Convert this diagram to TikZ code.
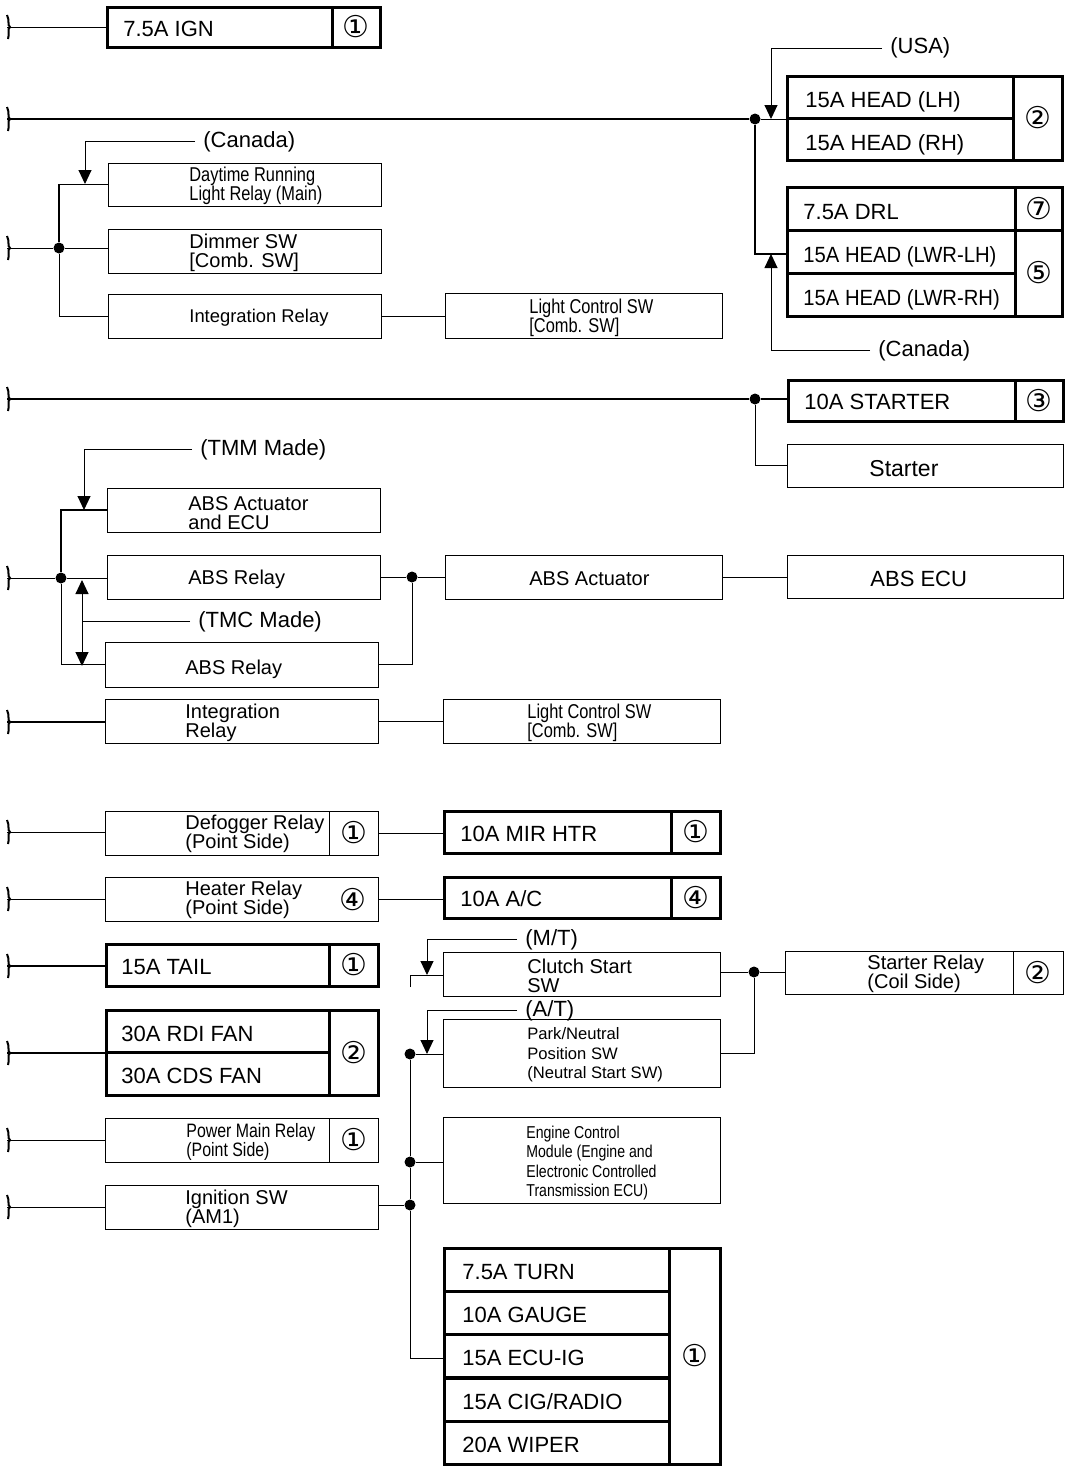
\documentclass[tikz,border=0pt]{standalone}
\usepackage{fontspec}
\setmainfont{Liberation Sans}
\newfontfamily\narrowfont[FakeStretch=0.82]{Liberation Sans}
\newfontfamily\lwrfont[FakeStretch=0.92]{Liberation Sans}
\newfontfamily\circlefont{DejaVu Sans}
\usetikzlibrary{arrows.meta}
\tikzset{
  fusecell/.style 2 args={draw,line width=1.5pt,anchor=north west,inner sep=0pt,outer sep=0pt,
    minimum width=#1*0.5pt,minimum height=#2*0.5pt},
  relaycell/.style 2 args={draw,line width=0.5pt,anchor=north west,inner sep=0pt,outer sep=0pt,
    minimum width=#1*0.5pt,minimum height=#2*0.5pt},
  circled/.style={font=\circlefont\fontsize{15}{15}\selectfont},
  fuselbl/.style={anchor=base west,yshift=-4pt,inner sep=0pt,font=\fontsize{11}{11}\selectfont},
  lwrlbl/.style={anchor=base west,yshift=-4pt,inner sep=0pt,font=\lwrfont\fontsize{11}{11}\selectfont},
  relaylbl/.style={anchor=west,yshift=-1pt,inner sep=0pt,align=left,font=\fontsize{10}{9.6}\selectfont},
  narrowlbl/.style={anchor=west,yshift=-1pt,inner sep=0pt,align=left,font=\narrowfont\fontsize{10}{9.6}\selectfont},
  smalllbl/.style={anchor=west,yshift=-1pt,inner sep=0pt,align=left,font=\fontsize{8.3}{9.7}\selectfont},
  ecmlbl/.style={anchor=west,yshift=-1pt,inner sep=0pt,align=left,font=\narrowfont\fontsize{8.6}{9.6}\selectfont},
  note/.style={anchor=base west,yshift=-4pt,inner sep=0pt,inner xsep=4pt,font=\fontsize{11}{11}\selectfont},
  jdot/.style={circle,fill=black,inner sep=0pt,minimum size=5.5pt},
  wire/.style={line width=0.5pt},
  mainwire/.style={line width=0.7pt},
  heavywire/.style={line width=0.9pt},
  wiretip/.style={line width=0.5pt,-{Triangle[width=6.5pt,length=7pt]}},
  wirebreak/.pic={\draw[line width=1pt] (0,-12) .. controls (3,-6) and (0,-2) .. (3,0) .. controls (0,2) and (3,6) .. (1,12);}
}
\begin{document}
\begin{tikzpicture}[x=0.5pt,y=-0.5pt]
\useasboundingbox (0,0) rectangle (1088,1472);
% wire breaks on the left
\foreach \n/\y in {ign/27,head/119,drl/248,start/399,abs/578,integ/722,defog/832,heat/899,tail/966,rdi/1053,pmain/1140,ignsw/1207}{
  \coordinate (brk\n) at (7,\y);
  \pic at (brk\n) {wirebreak};
}
% 7.5A IGN
\node[fusecell={225}{40}] (ign) at (107,7) {};
\node[fusecell={48}{40},circled] (ignno) at (332,7) {①};
\node[fuselbl] (ignT) at (123,28) {7.5A IGN};
\draw[wire] (brkign) -- (brkign -| ign.west);
% headlights
\node[fusecell={226}{42}] (headlh) at (787,76) {};
\node[fusecell={226}{42}] (headrh) at (787,118) {};
\node[fusecell={49}{84},circled] (headno) at (1013,76) {②};
\node[fuselbl] (headlhT) at (805,99) {15A HEAD (LH)};
\node[fuselbl] (headrhT) at (805,142) {15A HEAD (RH)};
\node[fusecell={228}{43}] (drlf) at (787,187) {};
\node[fusecell={47}{43},circled] (drlno) at (1015,187) {⑦};
\node[fusecell={228}{43}] (lwrlh) at (787,230) {};
\node[fusecell={228}{43}] (lwrrh) at (787,273) {};
\node[fusecell={47}{86},circled] (lwrno) at (1015,230) {⑤};
\node[fuselbl] (drlT) at (803,211) {7.5A DRL};
\node[lwrlbl] (lwrlhT) at (803,254) {15A HEAD (LWR-LH)};
\node[lwrlbl] (lwrrhT) at (803,297) {15A HEAD (LWR-RH)};
\node[jdot] (jhead) at (755,119) {};
\draw[mainwire] (brkhead) -- (jhead);
\draw[wire] (jhead) -- (jhead -| headlh.west);
\draw[heavywire] (jhead) |- ([yshift=-1.2pt]lwrlh.west);
\node[note] (usa) at (882,46) {(USA)};
\coordinate (usaTip) at (771,119);
\draw[wiretip] (usa.west) -| (usaTip);
\node[note] (canR) at (870,348) {(Canada)};
\coordinate (canRTip) at (771,254);
\draw[wiretip] (canR.west) -| (canRTip);
% daytime running light
\node[relaycell={273}{43}] (drlmain) at (108,163) {};
\node[relaycell={273}{44}] (dimmer) at (108,229) {};
\node[relaycell={273}{44}] (integ) at (108,294) {};
\node[relaycell={277}{45}] (ctl) at (445,293) {};
\node[narrowlbl] (drlmainT) at (189,184) {Daytime Running\\Light Relay (Main)};
\node[relaylbl] (dimmerT) at (189,251) {Dimmer SW\\{[Comb. SW]}};
\node[relaylbl,font=\fontsize{9.2}{9.6}\selectfont] (integT) at (189,316) {Integration Relay};
\node[narrowlbl] (ctlT) at (529,316) {Light Control SW\\{[Comb. SW]}};
\node[jdot] (jdrl) at (59,248) {};
\draw[wire] (brkdrl) -- (jdrl) -- (jdrl -| dimmer.west);
\draw[heavywire] (jdrl) |- (drlmain.west);
\draw[wire] (jdrl) |- (integ.west);
\draw[wire] (integ.east) -- (integ.east -| ctl.west);
\node[note] (canL) at (195,139) {(Canada)};
\coordinate (canLTip) at (85,184);
\draw[wiretip] (canL.west) -| (canLTip);
% starter
\node[fusecell={227}{41}] (startf) at (788,380) {};
\node[fusecell={48}{41},circled] (startno) at (1015,380) {③};
\node[fuselbl] (startfT) at (804,401) {10A STARTER};
\node[relaycell={276}{43}] (starter) at (787,444) {};
\node[relaylbl,font=\fontsize{11.5}{11}\selectfont] (starterT) at (869,467) {Starter};
\node[jdot] (jst) at (755,399) {};
\draw[heavywire] (brkstart) -- (jst) -- (jst -| startf.west);
\draw[wire] (jst) |- (starter.west);
% ABS
\node[relaycell={273}{44}] (absact) at (107,488) {};
\node[relaycell={273}{44}] (absrelaya) at (107,555) {};
\node[relaycell={273}{45}] (absrelayb) at (105,642) {};
\node[relaycell={277}{44}] (actuator) at (445,555) {};
\node[relaycell={276}{43}] (absecu) at (787,555) {};
\node[relaylbl] (absactT) at (188,511) {ABS Actuator\\and ECU};
\node[relaylbl] (absrelayaT) at (188,577) {ABS Relay};
\node[relaylbl] (absrelaybT) at (185,667) {ABS Relay};
\node[relaylbl] (actuatorT) at (529,577) {ABS Actuator};
\node[fuselbl] (absecuT) at (870,578) {ABS ECU};
\node[jdot] (jabs) at (61,578) {};
\node[jdot] (jact) at (412,577) {};
\draw[wire] (brkabs) -- (jabs) -- (jabs -| absrelaya.west);
\draw[heavywire] (jabs) |- (absact.west);
\draw[wire] (jabs) |- (absrelayb.west);
\draw[wire] (jact -| absrelaya.east) -- (jact) -- (jact -| actuator.west);
\draw[wire] (jact) |- (absrelayb.east);
\draw[wire] (actuator.east) -- (actuator.east -| absecu.west);
\node[note] (tmm) at (192,447) {(TMM Made)};
\coordinate (tmmTip) at (84,510);
\draw[wiretip] (tmm.west) -| (tmmTip);
\node[note] (tmc) at (190,619) {(TMC Made)};
\coordinate (tmcUp) at (82,580);
\coordinate (tmcDown) at (82,666);
\coordinate (tmcMid) at (tmcUp |- tmc.west);
\draw[wire] (tmc.west) -- (tmcMid);
\draw[wiretip] (tmcMid) -- (tmcUp);
\draw[wiretip] (tmcMid) -- (tmcDown);
% integration relay
\node[relaycell={273}{44}] (integb) at (105,699) {};
\node[relaycell={277}{44}] (ctlb) at (443,699) {};
\node[relaylbl] (integbT) at (185,721) {Integration\\Relay};
\node[narrowlbl] (ctlbT) at (527,721) {Light Control SW\\{[Comb. SW]}};
\draw[heavywire] (brkinteg) -- (brkinteg -| integb.west);
\draw[wire] (integb.east) -- (integb.east -| ctlb.west);
% relays and their fuses
\node[relaycell={224}{44}] (defog) at (105,811) {};
\node[relaycell={49}{44},circled] (defogno) at (329,811) {①};
\node[relaylbl] (defogT) at (185,832) {Defogger Relay\\(Point Side)};
\node[fusecell={227}{42}] (mir) at (444,811) {};
\node[fusecell={49}{42},circled] (mirno) at (671,811) {①};
\node[fuselbl] (mirT) at (460,833) {10A MIR HTR};
\draw[wire] (brkdefog) -- (brkdefog -| defog.west);
\draw[wire] (defogno.east) -- (defogno.east -| mir.west);
\node[relaycell={273}{44}] (heat) at (105,877) {};
\node[circled] (heatno) at (353,900) {④};
\node[relaylbl] (heatT) at (185,898) {Heater Relay\\(Point Side)};
\node[fusecell={227}{41}] (ac) at (444,877) {};
\node[fusecell={49}{41},circled] (acno) at (671,877) {④};
\node[fuselbl] (acT) at (460,898) {10A A/C};
\draw[wire] (brkheat) -- (brkheat -| heat.west);
\draw[wire] (heat.east) -- (heat.east -| ac.west);
\node[fusecell={223}{42}] (tail) at (106,944) {};
\node[fusecell={49}{42},circled] (tailno) at (329,944) {①};
\node[fuselbl] (tailT) at (121,966) {15A TAIL};
\draw[heavywire] (brktail) -- (brktail -| tail.west);
\node[fusecell={223}{42}] (rdi) at (106,1010) {};
\node[fusecell={223}{43}] (cds) at (106,1052) {};
\node[fusecell={49}{85},circled] (rdino) at (329,1010) {②};
\node[fuselbl] (rdiT) at (121,1033) {30A RDI FAN};
\node[fuselbl] (cdsT) at (121,1075) {30A CDS FAN};
\draw[heavywire] (brkrdi) -- (brkrdi -| rdi.west);
\node[relaycell={224}{44}] (pmain) at (105,1118) {};
\node[relaycell={49}{44},circled] (pmainno) at (329,1118) {①};
\node[narrowlbl,font=\narrowfont\fontsize{9.7}{9.6}\selectfont] (pmainT) at (186,1140) {Power Main Relay\\(Point Side)};
\draw[wire] (brkpmain) -- (brkpmain -| pmain.west);
\node[relaycell={273}{44}] (ignsw) at (105,1185) {};
\node[relaylbl] (ignswT) at (185,1207) {Ignition SW\\(AM1)};
\draw[wire] (brkignsw) -- (brkignsw -| ignsw.west);
% starter relay side
\node[relaycell={277}{44}] (clutch) at (443,952) {};
\node[relaylbl] (clutchT) at (527,974) {Clutch Start\\SW};
\node[relaycell={277}{68}] (park) at (443,1019) {};
\node[smalllbl] (parkT) at (527,1053) {Park/Neutral\\Position SW\\(Neutral Start SW)};
\node[relaycell={277}{86}] (ecm) at (443,1117) {};
\node[ecmlbl] (ecmT) at (526,1161) {Engine Control\\Module (Engine and\\Electronic Controlled\\Transmission ECU)};
\node[relaycell={228}{43}] (relay) at (785,951) {};
\node[relaycell={50}{43},circled] (relayno) at (1013,951) {②};
\node[relaylbl] (relayT) at (867,972) {Starter Relay\\(Coil Side)};
\node[jdot] (jstart) at (754,972) {};
\draw[wire] (jstart -| clutch.east) -- (jstart) -- (jstart -| relay.west);
\draw[wire] (jstart) |- (park.east);
\node[note] (mt) at (517,937) {(M/T)};
\coordinate (mtTip) at (427,975);
\coordinate (mtEnd) at (410,975);
\coordinate (mtStub) at (410,987);
\draw[wiretip] (mt.west) -| (mtTip);
\draw[wire] (mtStub) -- (mtEnd) -- (mtEnd -| clutch.west);
\node[note] (at) at (517,1008) {(A/T)};
\coordinate (atTip) at (427,1054);
\draw[wiretip] (at.west) -| (atTip);
\node[jdot] (jpark) at (410,1054) {};
\node[jdot] (jecm) at (410,1162) {};
\node[jdot] (jignsw) at (410,1205) {};
\draw[wire] (jpark) -- (jpark -| park.west);
\draw[wire] (jecm) -- (jecm -| ecm.west);
\draw[wire] (jignsw -| ignsw.east) -- (jignsw);
\draw[wire] (jpark) -- (jecm) -- (jignsw);
% fuse block
\foreach \n/\y/\t in {turn/1248/{7.5A TURN},gauge/1291/{10A GAUGE},ecuig/1334/{15A ECU-IG},cig/1378/{15A CIG/RADIO},wiper/1421/{20A WIPER}}{
  \node[fusecell={225}{43}] (\n) at (444,\y) {};
  \node[fuselbl] (\n T) at (462,\y+23) {\t};
}
\node[fusecell={51}{216},circled] (blockno) at (669,1248) {①};
\draw[wire] (jignsw) |- ([yshift=-1.5pt]ecuig.west);
\end{tikzpicture}
\end{document}
